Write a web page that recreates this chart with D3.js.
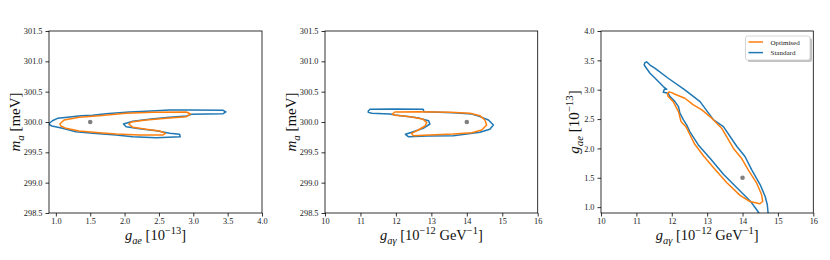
<!DOCTYPE html>
<html><head><meta charset="utf-8">
<script src="https://cdn.jsdelivr.net/npm/d3@7"></script>
<style>body{margin:0;background:#fff}svg{display:block}</style>
</head><body>
<svg id="c" width="830" height="260"></svg>
<script>
// ---------- data ----------
const seriesNames = ["Optimised", "Standard"];
const seriesColors = ["#ff7f0e", "#1f77b4"];
const truePoint1 = [1.5, 300.0];
const truePoint2 = [14.0, 300.0];
const truePoint3 = [14.0, 1.5];

const ticks1x = [1.0, 1.5, 2.0, 2.5, 3.0, 3.5, 4.0];
const ticksMa = [298.5, 299.0, 299.5, 300.0, 300.5, 301.0, 301.5];
const ticksGag = [10, 11, 12, 13, 14, 15, 16];
const ticksGae = [1.0, 1.5, 2.0, 2.5, 3.0, 3.5, 4.0];

// panel 1: g_ae vs m_a
const p1Standard = [[0.893,299.967],[0.95,300.02],[1.024,300.06],[1.17,300.077],[1.365,300.104],[1.536,300.11],[1.73,300.137],[2.07,300.165],[2.315,300.176],[2.656,300.198],[2.948,300.198],[3.435,300.192],[3.474,300.165],[3.435,300.137],[2.973,300.126],[2.90,300.099],[2.656,300.077],[2.388,300.049],[2.12,300.011],[1.984,299.967],[2.023,299.923],[2.218,299.89],[2.461,299.857],[2.656,299.813],[2.80,299.797],[2.81,299.758],[2.461,299.742],[2.12,299.758],[1.877,299.786],[1.536,299.813],[1.292,299.84],[1.097,299.896],[0.942,299.934]];
const p1Optimised = [[1.058,299.967],[1.12,300.033],[1.34,300.077],[1.633,300.104],[2.02,300.143],[2.41,300.159],[2.90,300.165],[2.96,300.132],[2.90,300.088],[2.607,300.06],[2.315,300.033],[2.096,300.0],[2.062,299.967],[2.12,299.912],[2.315,299.879],[2.51,299.852],[2.593,299.813],[2.56,299.786],[2.218,299.786],[1.877,299.802],[1.633,299.824],[1.34,299.852],[1.146,299.896],[1.073,299.934]];

// panel 2: g_agamma vs m_a
const p2Standard = [[11.22,300.181],[11.27,300.209],[11.93,300.214],[12.77,300.209],[12.79,300.17],[13.62,300.154],[14.14,300.132],[14.37,300.088],[14.61,300.033],[14.75,299.95],[14.65,299.879],[14.37,299.83],[14.0,299.802],[13.62,299.775],[12.87,299.769],[12.35,299.758],[12.27,299.797],[12.49,299.84],[12.77,299.896],[12.96,299.967],[12.92,300.022],[12.68,300.06],[12.40,300.088],[11.97,300.115],[11.83,300.132],[11.32,300.143],[11.22,300.159]];
const p2Optimised = [[11.90,300.132],[11.97,300.165],[12.68,300.17],[13.53,300.159],[14.09,300.143],[14.37,300.104],[14.51,300.033],[14.56,299.95],[14.42,299.868],[14.14,299.824],[13.62,299.802],[12.96,299.786],[12.49,299.775],[12.44,299.813],[12.63,299.868],[12.82,299.934],[12.87,299.989],[12.77,300.044],[12.49,300.077],[12.21,300.099],[11.97,300.11]];

// panel 3: g_agamma vs g_ae
const p3Standard = [[11.24,3.46],[11.29,3.475],[11.385,3.42],[11.53,3.365],[11.90,3.195],[12.37,2.996],[12.80,2.797],[13.18,2.486],[13.46,2.372],[13.84,2.032],[14.07,1.862],[14.26,1.635],[14.50,1.38],[14.64,1.181],[14.70,1.04],[14.73,0.85],[14.52,0.85],[14.40,0.955],[14.21,1.11],[13.84,1.33],[13.46,1.56],[13.10,1.82],[12.75,2.06],[12.51,2.287],[12.42,2.40],[12.33,2.486],[12.23,2.60],[12.19,2.712],[12.09,2.797],[11.95,2.883],[11.90,2.94],[11.76,2.957],[11.79,3.008],[11.86,3.008],[11.76,3.053],[11.53,3.195],[11.385,3.28],[11.22,3.42]];
const p3Optimised = [[11.874,2.93],[11.92,2.962],[12.0,2.95],[12.09,2.923],[12.37,2.855],[12.61,2.741],[12.85,2.656],[13.13,2.515],[13.41,2.344],[13.74,2.004],[13.97,1.834],[14.16,1.635],[14.40,1.408],[14.54,1.21],[14.57,1.096],[14.49,1.057],[14.21,1.096],[13.93,1.20],[13.55,1.42],[13.20,1.66],[12.90,1.87],[12.65,2.07],[12.50,2.25],[12.40,2.37],[12.26,2.46],[12.19,2.627],[12.04,2.797],[11.90,2.883]];

// ---------- drawing ----------
const svg = d3.select("#c");
const FONT = "'Liberation Serif', 'DejaVu Serif', serif";
const plotTop = 31, plotBottom = 213;

const labGae = [{t:"g",i:1},{t:"ae",i:1,s:"sub"},{t:" [10"},{t:"−13",s:"sup"},{t:"]"}];
const labGag = [{t:"g",i:1},{t:"aγ",i:1,s:"sub"},{t:" [10"},{t:"−12",s:"sup"},{t:" GeV"},{t:"−1",s:"sup"},{t:"]"}];
const labMa = [{t:"m",i:1},{t:"a",i:1,s:"sub"},{t:" [meV]"}];

const panels = [
  {x0:49, x1:262, xd:[0.9,4.0], yd:[298.5,301.5], xt:ticks1x, yt:ticksMa, xf:d3.format(".1f"), yf:d3.format(".1f"),
   std:p1Standard, opt:p1Optimised, pt:truePoint1, xl:labGae, yl:labMa, ylx:15},
  {x0:325, x1:537.7, xd:[10,16], yd:[298.5,301.5], xt:ticksGag, yt:ticksMa, xf:d3.format("d"), yf:d3.format(".1f"),
   std:p2Standard, opt:p2Optimised, pt:truePoint2, xl:labGag, yl:labMa, ylx:291},
  {x0:601, x1:813.3, xd:[10,16], yd:[0.9,4.0], xt:ticksGag, yt:ticksGae, xf:d3.format("d"), yf:d3.format(".1f"),
   std:p3Standard, opt:p3Optimised, pt:truePoint3, xl:labGag, yl:labGae, ylx:574, legend:true}
];

function mathText(sel, parts, fs) {
  let shift = 0;
  parts.forEach(p => {
    let target = 0, size = fs;
    if (p.s === "sub") { target = 0.26*fs; size = 0.72*fs; }
    if (p.s === "sup") { target = -0.38*fs; size = 0.72*fs; }
    sel.append("tspan").attr("dy", target - shift).attr("font-size", size)
      .attr("font-style", p.i ? "italic" : "normal").text(p.t);
    shift = target;
  });
}

panels.forEach((P, k) => {
  const x = d3.scaleLinear().domain(P.xd).range([P.x0, P.x1]);
  const y = d3.scaleLinear().domain(P.yd).range([plotBottom, plotTop]);
  const g = svg.append("g");
  const cid = "clip" + k;
  svg.append("clipPath").attr("id", cid).append("rect")
    .attr("x", P.x0).attr("y", plotTop).attr("width", P.x1 - P.x0).attr("height", plotBottom - plotTop);

  const line = d3.line().x(d => x(d[0])).y(d => y(d[1])).curve(d3.curveLinearClosed);
  const cg = g.append("g").attr("clip-path", `url(#${cid})`);
  cg.append("path").datum(P.std).attr("d", line).attr("fill", "none")
    .attr("stroke", seriesColors[1]).attr("stroke-width", 1.5).attr("stroke-linejoin", "round");
  cg.append("path").datum(P.opt).attr("d", line).attr("fill", "none")
    .attr("stroke", seriesColors[0]).attr("stroke-width", 1.5).attr("stroke-linejoin", "round");
  cg.append("circle").attr("cx", x(P.pt[0])).attr("cy", y(P.pt[1])).attr("r", 2.3).attr("fill", "#808080");

  const xa = g.append("g").attr("transform", `translate(0,${plotBottom})`)
    .call(d3.axisBottom(x).tickValues(P.xt).tickFormat(P.xf).tickSize(3.5).tickPadding(2));
  const ya = g.append("g").attr("transform", `translate(${P.x0},0)`)
    .call(d3.axisLeft(y).tickValues(P.yt).tickFormat(P.yf).tickSize(3.5).tickPadding(3));
  [xa, ya].forEach(a => {
    a.select(".domain").remove();
    a.selectAll("line").attr("stroke", "#000").attr("stroke-width", 0.8);
    a.selectAll("text").attr("font-family", FONT).attr("font-size", 8.3).attr("fill", "#222");
  });
  g.append("rect").attr("x", P.x0).attr("y", plotTop).attr("width", P.x1 - P.x0).attr("height", plotBottom - plotTop)
    .attr("fill", "none").attr("stroke", "#000").attr("stroke-width", 0.8);

  const xl = g.append("text").attr("x", (P.x0 + P.x1) / 2).attr("y", 240)
    .attr("text-anchor", "middle").attr("font-family", FONT).attr("fill", "#111");
  mathText(xl, P.xl, 14.5);
  const yl = g.append("text").attr("transform", `translate(${P.ylx + 5},${(plotTop + plotBottom) / 2}) rotate(-90)`)
    .attr("text-anchor", "middle").attr("font-family", FONT).attr("fill", "#111");
  mathText(yl, P.yl, 15);

  if (P.legend) {
    const lx = 745.5, ly = 36, lw = 64.5, lh = 24;
    g.append("rect").attr("x", lx + 2).attr("y", ly + 2).attr("width", lw).attr("height", lh)
      .attr("rx", 2).attr("fill", "#999").attr("opacity", 0.6);
    g.append("rect").attr("x", lx).attr("y", ly).attr("width", lw).attr("height", lh)
      .attr("rx", 2).attr("fill", "#fff").attr("stroke", "#ccc").attr("stroke-width", 0.8);
    seriesNames.forEach((n, i) => {
      const yy = ly + 6 + i * 10.6;
      g.append("line").attr("x1", lx + 3).attr("x2", lx + 17.5).attr("y1", yy).attr("y2", yy)
        .attr("stroke", seriesColors[i]).attr("stroke-width", 1.5);
      g.append("text").attr("x", lx + 25).attr("y", yy + 2.5).attr("font-family", FONT)
        .attr("font-size", 7).attr("fill", "#222").text(n);
    });
  }
});
</script>
</body></html>
